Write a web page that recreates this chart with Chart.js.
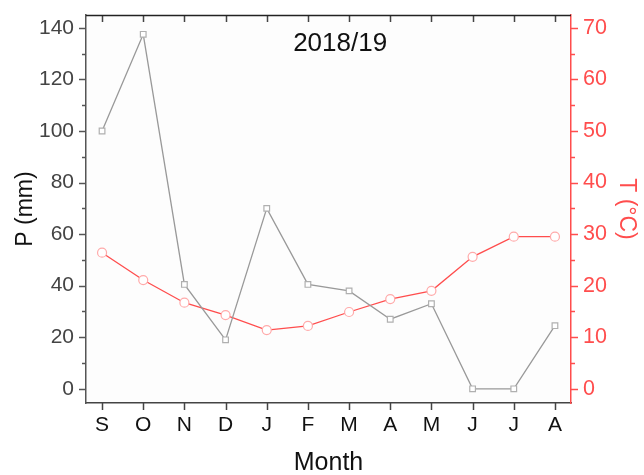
<!DOCTYPE html>
<html>
<head>
<meta charset="utf-8">
<script src="https://cdn.jsdelivr.net/npm/chart.js@4"></script>
<style>
  html, body { margin: 0; padding: 0; background: #fff; }
  #wrap { width: 644px; height: 475px; }
</style>
</head>
<body>
<div id="wrap"><canvas id="chart" width="644" height="475"></canvas></div>
<script>
const months = ['S', 'O', 'N', 'D', 'J', 'F', 'M', 'A', 'M', 'J', 'J', 'A'];
const precip = [100, 137.5, 40.5, 19, 70, 40.5, 38, 27, 33, 0, 0, 24.5];
const temp = [26.4, 21.1, 16.7, 14.3, 11.4, 12.2, 14.9, 17.4, 19.0, 25.6, 29.5, 29.5];
const chartTitle = '2018/19';

const FONT = '"Liberation Sans", Arial, sans-serif';
const RED = '#ff4d4d';

// ticks drawn by hand so we get major/minor lengths like the original
const tickMarks = {
    id: 'tickMarks',
    afterDraw(chart) {
        const ctx = chart.ctx;
        const area = chart.chartArea;
        const { x, y, y2 } = chart.scales;
        ctx.save();
        ctx.lineWidth = 1.5;

        ctx.strokeStyle = '#555';
        for (let v = 0; v <= 140; v += 10) {
            const py = Math.round(y.getPixelForValue(v)) + 0.5;
            const len = v % 20 === 0 ? 7 : 4;
            ctx.beginPath();
            ctx.moveTo(area.left, py);
            ctx.lineTo(area.left - len, py);
            ctx.stroke();
        }

        ctx.strokeStyle = RED;
        for (let v = 0; v <= 70; v += 5) {
            const py = Math.round(y2.getPixelForValue(v)) + 0.5;
            const len = v % 10 === 0 ? 7 : 4;
            ctx.beginPath();
            ctx.moveTo(area.right, py);
            ctx.lineTo(area.right + len, py);
            ctx.stroke();
        }

        ctx.strokeStyle = '#444';
        months.forEach((m, i) => {
            const px = Math.round(x.getPixelForValue(i)) + 0.5;
            ctx.beginPath();
            ctx.moveTo(px, area.bottom);
            ctx.lineTo(px, area.bottom + 7);
            ctx.moveTo(px, area.top);
            ctx.lineTo(px, area.top + 7);
            ctx.stroke();
        });

        // top frame line
        ctx.strokeStyle = '#222';
        ctx.beginPath();
        ctx.moveTo(area.left, area.top + 0.5);
        ctx.lineTo(area.right, area.top + 0.5);
        ctx.stroke();

        ctx.fillStyle = '#111';
        ctx.font = '26px ' + FONT;
        ctx.textAlign = 'center';
        ctx.textBaseline = 'middle';
        ctx.fillText(chartTitle, area.left + (area.right - area.left) * 0.524, area.top + 29);
        ctx.restore();
    }
};

const plotBg = {
    id: 'plotBg',
    beforeDraw(chart) {
        const a = chart.chartArea;
        chart.ctx.save();
        chart.ctx.fillStyle = '#fdfdfd';
        chart.ctx.fillRect(a.left, a.top, a.right - a.left, a.bottom - a.top);
        chart.ctx.restore();
    }
};

function fitY(width) {
    return s => {
        s.width = width;
        s.paddingTop = 0;
        s.paddingBottom = 0;
    };
}

new Chart(document.getElementById('chart'), {
    type: 'line',
    data: {
        datasets: [{
            label: 'P',
            data: precip.map((v, i) => ({ x: i, y: v })),
            yAxisID: 'y',
            borderColor: '#999',
            borderWidth: 1.3,
            pointStyle: 'rect',
            pointRadius: 4,
            pointBorderColor: '#b0b0b0',
            pointBackgroundColor: '#fff',
            pointBorderWidth: 1.2,
            tension: 0
        }, {
            label: 'T',
            data: temp.map((v, i) => ({ x: i, y: v })),
            yAxisID: 'y2',
            borderColor: RED,
            borderWidth: 1.3,
            pointStyle: 'circle',
            pointRadius: 4.5,
            pointBorderColor: '#ffaaaa',
            pointBackgroundColor: '#fff',
            pointBorderWidth: 1.2,
            tension: 0
        }]
    },
    options: {
        responsive: false,
        animation: false,
        layout: { padding: { top: 15, left: 0, right: 0, bottom: 0 } },
        plugins: { legend: { display: false }, tooltip: { enabled: false } },
        scales: {
            x: {
                type: 'linear',
                min: -0.39,
                max: 11.39,
                afterFit(s) { s.height = 72; s.paddingLeft = 0; s.paddingRight = 0; },
                afterBuildTicks(s) { s.ticks = months.map((m, i) => ({ value: i })); },
                ticks: {
                    autoSkip: false,
                    maxRotation: 0,
                    padding: 10,
                    color: '#111',
                    font: { family: FONT, size: 21 },
                    callback: v => months[v]
                },
                grid: { display: false, drawTicks: false },
                border: { display: true, color: '#444', width: 1.5 },
                title: {
                    display: true, text: 'Month', color: '#111',
                    font: { family: FONT, size: 25 },
                    padding: { top: 0, bottom: -3 }
                }
            },
            y: {
                position: 'left',
                min: -5.5,
                max: 145,
                afterFit: fitY(86),
                afterBuildTicks(s) {
                    const t = [];
                    for (let v = 0; v <= 140; v += 20) t.push({ value: v });
                    s.ticks = t;
                },
                ticks: {
                    padding: 12,
                    color: '#444',
                    font: { family: FONT, size: 21 }
                },
                grid: { display: false, drawTicks: false },
                border: { display: true, color: '#555', width: 1.5 },
                title: {
                    display: true, text: 'P (mm)', color: '#111',
                    font: { family: FONT, size: 23 },
                    padding: { top: 12, bottom: 0 }
                }
            },
            y2: {
                position: 'right',
                min: -2.75,
                max: 72.5,
                afterFit: fitY(73),
                afterBuildTicks(s) {
                    const t = [];
                    for (let v = 0; v <= 70; v += 10) t.push({ value: v });
                    s.ticks = t;
                },
                ticks: {
                    padding: 12,
                    color: RED,
                    font: { family: FONT, size: 21.5 }
                },
                grid: { display: false, drawTicks: false },
                border: { display: true, color: RED, width: 1.5 },
                title: {
                    display: true, text: 'T (°C)', color: RED,
                    font: { family: FONT, size: 23 },
                    padding: { top: 4, bottom: 0 }
                }
            }
        }
    },
    plugins: [plotBg, tickMarks]
});
</script>
</body>
</html>
